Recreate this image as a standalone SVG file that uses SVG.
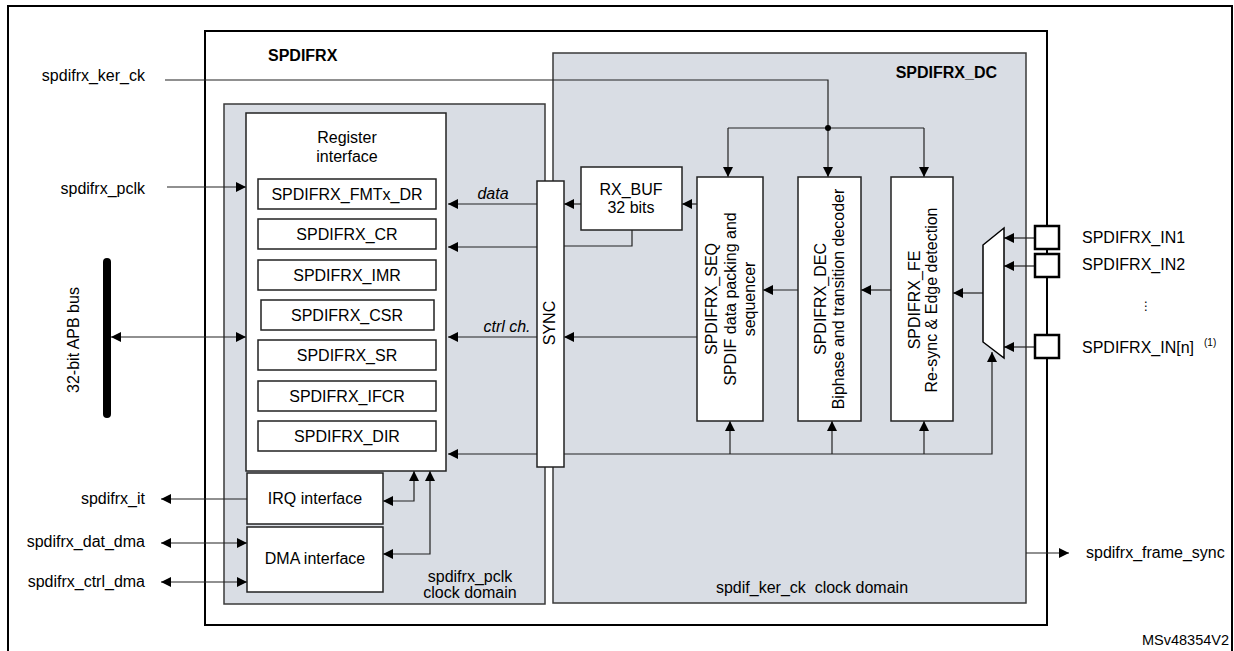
<svg xmlns="http://www.w3.org/2000/svg" width="1234" height="651" viewBox="0 0 1234 651">
<defs>
<marker id="ah" markerUnits="userSpaceOnUse" markerWidth="11" markerHeight="10" refX="10" refY="5" orient="auto-start-reverse" viewBox="0 0 11 10">
<path d="M0,0 L10,5 L0,10 z" fill="#000"/>
</marker>
<style>
text{font-family:"Liberation Sans",Arial,sans-serif;font-size:16px;fill:#000}
.b{font-weight:bold}
.i{font-style:italic}
.m{text-anchor:middle}
.e{text-anchor:end}
.box{fill:#fff;stroke:#222;stroke-width:1.5}
.grey{fill:#d9dde4;stroke:#3a3a3a;stroke-width:1.5}
.frame{fill:none;stroke:#000;stroke-width:2}
.c{fill:none;stroke:#222;stroke-width:1.2}
.ce{fill:none;stroke:#222;stroke-width:1.2;marker-end:url(#ah)}
.cb{fill:none;stroke:#222;stroke-width:1.2;marker-end:url(#ah);marker-start:url(#ah)}
.inb{fill:#fff;stroke:#000;stroke-width:2.5}
</style>
</defs>
<rect width="1234" height="651" fill="#fff"/>
<path class="frame" d="M8,660 V6 H1232 V660"/>

<g id="spdifrx">
<rect x="205" y="31" width="842" height="594" fill="#fff" stroke="#000" stroke-width="2"/>
<text class="b" x="268" y="61">SPDIFRX</text>
</g>
<g id="pclk-domain">
<rect class="grey" x="224" y="104" width="321" height="500"/>
<text class="m" x="470" y="582">spdifrx_pclk</text>
<text class="m" x="470" y="598">clock domain</text>
</g>
<g id="dc-domain">
<rect class="grey" x="553" y="53" width="473" height="550"/>
<text class="b e" x="997" y="78">SPDIFRX_DC</text>
<text class="m" x="812" y="593">spdif_ker_ck&#160; clock domain</text>
</g>

<g id="apb-bus">
<line x1="107" y1="262" x2="107" y2="414" stroke="#000" stroke-width="8" stroke-linecap="round"/>
<text class="m" transform="translate(79,340) rotate(-90)">32-bit APB bus</text>
</g>

<g id="connectors">
<path class="c" d="M165,80 H828 V128"/>
<path class="ce" d="M828,128 V177"/>
<path class="c" d="M728,128 H924"/>
<path class="ce" d="M728,128 V177"/>
<path class="ce" d="M924,128 V177"/>
<circle cx="828" cy="128" r="3" fill="#000"/>
<path class="ce" d="M167,187 H246"/>
<path class="cb" d="M111,337 H246"/>
<path class="ce" d="M537,204 H448"/>
<path class="ce" d="M537,247 H448"/>
<path class="ce" d="M537,337 H448"/>
<path class="ce" d="M537,454 H448"/>
<path class="ce" d="M581,204 H564"/>
<path class="ce" d="M697,204 H682"/>
<path class="c" d="M632,230 V246 H564"/>
<path class="ce" d="M697,337 H564"/>
<path class="ce" d="M798,290 H763"/>
<path class="ce" d="M891,290 H861"/>
<path class="ce" d="M983,293 H953"/>
<path class="ce" d="M564,454 H992 V352"/>
<path class="ce" d="M730,454 V421"/>
<path class="ce" d="M832,454 V421"/>
<path class="ce" d="M924,454 V421"/>
<path class="ce" d="M1035,238 H1004"/>
<path class="ce" d="M1035,266 H1004"/>
<path class="ce" d="M1035,347 H1004"/>
<path class="ce" d="M1026,553 H1069"/>
<path class="ce" d="M247,499 H161"/>
<path class="cb" d="M161,543 H247"/>
<path class="cb" d="M161,582 H247"/>
<path class="cb" d="M383,501 H414 V471"/>
<path class="cb" d="M383,554 H430 V471"/>
</g>

<g id="register-interface">
<rect class="box" x="246" y="113" width="200" height="358"/>
<text class="m" x="347" y="143">Register</text>
<text class="m" x="347" y="162">interface</text>
<rect class="box" x="258" y="179" width="178" height="30"/>
<text class="m" x="347" y="200">SPDIFRX_FMTx_DR</text>
<rect class="box" x="258" y="219" width="178" height="30"/>
<text class="m" x="347" y="240">SPDIFRX_CR</text>
<rect class="box" x="258" y="260" width="178" height="30"/>
<text class="m" x="347" y="281">SPDIFRX_IMR</text>
<rect class="box" x="261" y="300" width="173" height="30"/>
<text class="m" x="347" y="321">SPDIFRX_CSR</text>
<rect class="box" x="258" y="340" width="178" height="30"/>
<text class="m" x="347" y="361">SPDIFRX_SR</text>
<rect class="box" x="258" y="381" width="178" height="30"/>
<text class="m" x="347" y="402">SPDIFRX_IFCR</text>
<rect class="box" x="258" y="421" width="178" height="30"/>
<text class="m" x="347" y="442">SPDIFRX_DIR</text>
</g>
<g id="irq">
<rect class="box" x="247" y="473" width="136" height="51"/>
<text class="m" x="315" y="504">IRQ interface</text>
</g>
<g id="dma">
<rect class="box" x="247" y="527" width="136" height="65"/>
<text class="m" x="315" y="564">DMA interface</text>
</g>
<g id="sync">
<rect class="box" x="537" y="181" width="27" height="286"/>
<text class="m" transform="translate(555,323) rotate(-90)">SYNC</text>
</g>
<g id="rxbuf">
<rect class="box" x="581" y="167" width="101" height="63"/>
<text class="m" x="631" y="195">RX_BUF</text>
<text class="m" x="631" y="213">32 bits</text>
</g>
<g id="seq">
<rect class="box" x="697" y="177" width="66" height="244"/>
<text class="m" transform="translate(717,299) rotate(-90)">SPDIFRX_SEQ</text>
<text class="m" transform="translate(736,299) rotate(-90)">SPDIF data packing and</text>
<text class="m" transform="translate(755,299) rotate(-90)">sequencer</text>
</g>
<g id="dec">
<rect class="box" x="798" y="177" width="63" height="244"/>
<text class="m" transform="translate(826,299) rotate(-90)">SPDIFRX_DEC</text>
<text class="m" transform="translate(844,299) rotate(-90)">Biphase and transition decoder</text>
</g>
<g id="fe">
<rect class="box" x="891" y="177" width="62" height="244"/>
<text class="m" transform="translate(920,300) rotate(-90)">SPDIFRX_FE</text>
<text class="m" transform="translate(937,300) rotate(-90)">Re-sync &amp; Edge detection</text>
</g>
<g id="mux">
<path d="M983,245 L1004,228 V358 L983,342 Z" fill="#fff" stroke="#000" stroke-width="1.5"/>
</g>
<g id="in1">
<rect class="inb" x="1035" y="226" width="24" height="23"/>
<text x="1082" y="243">SPDIFRX_IN1</text>
</g>
<g id="in2">
<rect class="inb" x="1035" y="254" width="24" height="23"/>
<text x="1082" y="270">SPDIFRX_IN2</text>
</g>
<text x="1146" y="310" class="m" style="font-family:'DejaVu Sans',sans-serif;font-size:12px">⋮</text>
<g id="inn">
<rect class="inb" x="1035" y="335" width="24" height="23"/>
<text x="1082" y="353">SPDIFRX_IN[n]</text>
<text x="1204" y="346" style="font-size:10px">(1)</text>
</g>

<g id="labels">
<text class="e" x="145" y="81">spdifrx_ker_ck</text>
<text class="e" x="145" y="194">spdifrx_pclk</text>
<text class="i m" x="493" y="199">data</text>
<text class="i m" x="507" y="332">ctrl ch.</text>
<text class="e" x="145" y="504">spdifrx_it</text>
<text class="e" x="145" y="547">spdifrx_dat_dma</text>
<text class="e" x="145" y="587">spdifrx_ctrl_dma</text>
<text x="1086" y="558">spdifrx_frame_sync</text>
<text class="e" x="1229" y="645" style="font-size:14.5px">MSv48354V2</text>
</g>
</svg>
